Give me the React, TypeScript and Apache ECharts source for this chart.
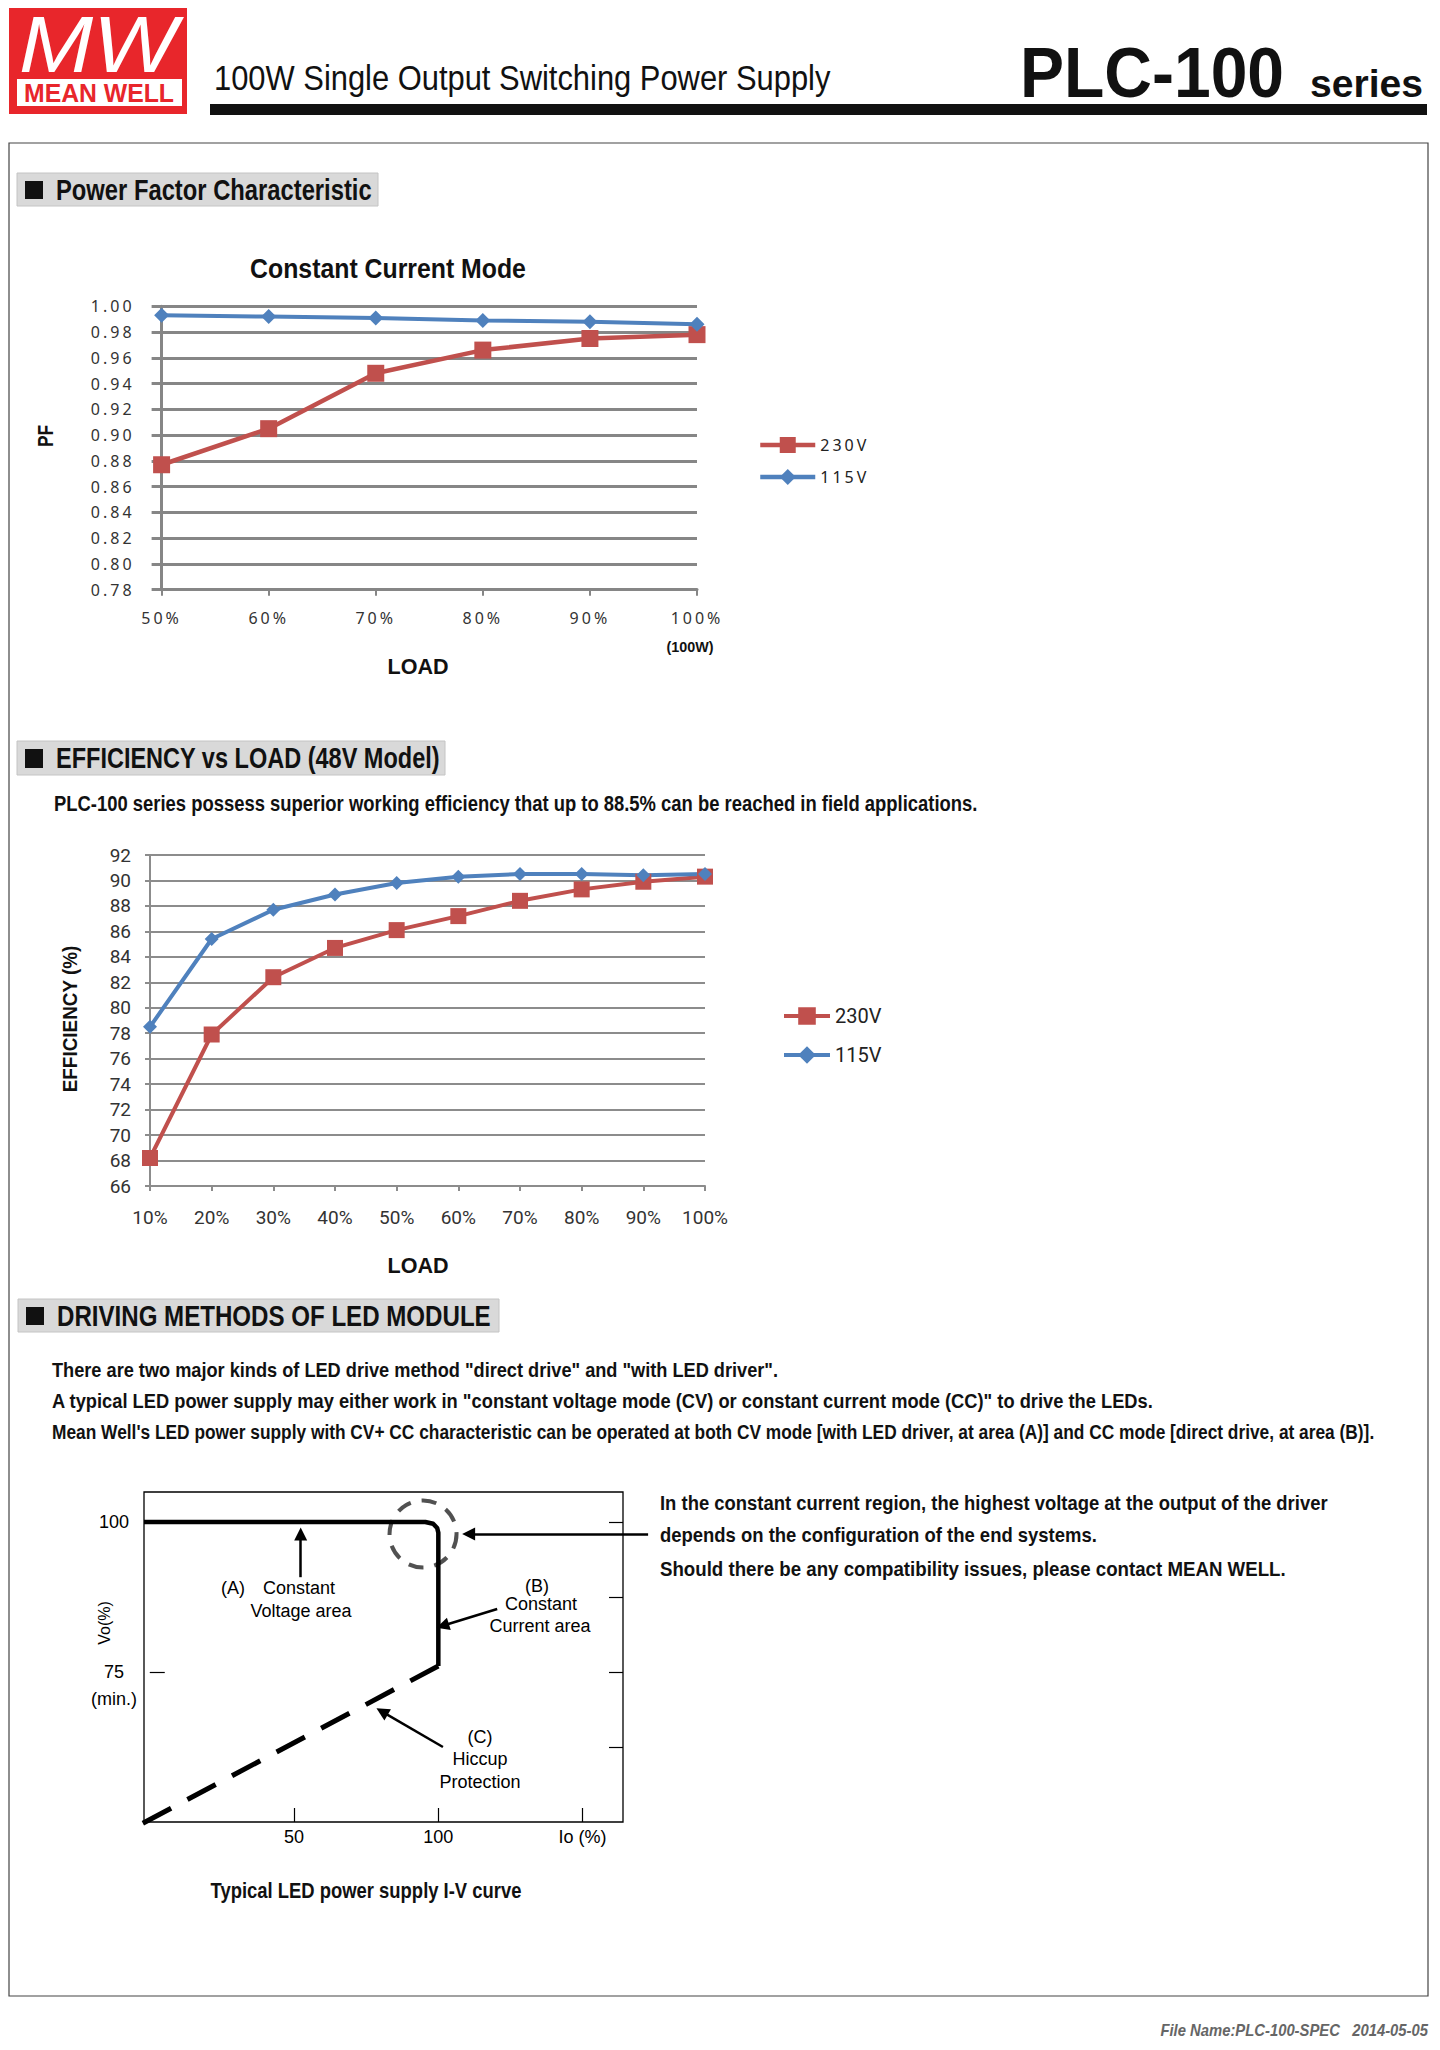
import React, { useEffect, useRef } from 'react';
import * as echarts from 'echarts';

// ---------- data ----------
const PF_LOADS = ['50%', '60%', '70%', '80%', '90%', '100%'];
const PF_230 = [0.877, 0.905, 0.948, 0.966, 0.975, 0.978];
const PF_115 = [0.993, 0.992, 0.991, 0.989, 0.988, 0.986];

const EFF_LOADS = ['10%', '20%', '30%', '40%', '50%', '60%', '70%', '80%', '90%', '100%'];
const EFF_230 = [68.2, 77.9, 82.4, 84.7, 86.1, 87.2, 88.4, 89.3, 89.9, 90.3];
const EFF_115 = [78.5, 85.4, 87.7, 88.9, 89.8, 90.3, 90.5, 90.5, 90.4, 90.5];

// I-V curve (Io %, Vo %)
const IV_CV_CC = [[-2, 100], [95.5, 100], [98.2, 99.7], [99.6, 99.0], [100, 98.2], [100, 76]];
const IV_HICCUP = [[-2.4, 49.8], [100, 76]];
const IV_X_TICKS = [50, 100, 150];
const IV_X_LABELS = ['50', '100', 'Io (%)'];
const IV_Y_LEFT_TICKS = [75, 100];
const IV_Y_RIGHT_TICKS = [62.5, 75, 87.5, 100];
const IV_ARROWS = [
  [[52.3, 90.8], [52.3, 98.0]],
  [[172.7, 98], [110.5, 98]],
  [[120.4, 85.5], [101.5, 82.7]],
  [[101.6, 62.5], [80.5, 68.4]],
];
const IV_FOCUS = [94.7, 98];

// ---------- styles ----------
const RED = '#c0504d';
const BLUE = '#4f81bd';
const GRID1 = '#868686';
const GRID2 = '#8c8c8c';
const SANS = "'Liberation Sans', Arial, sans-serif";
const NOTO = "'Noto Sans', sans-serif";
const ROBOTO = 'Roboto, sans-serif';

let measureCtx: CanvasRenderingContext2D | null = null;
function measure(text: string, font: string) {
  if (!measureCtx) measureCtx = document.createElement('canvas').getContext('2d');
  if (!measureCtx) return 0;
  measureCtx.font = font;
  return measureCtx.measureText(text).width;
}

type T = {
  text: string; x: number; y: number; size: number; weight?: string; fstyle?: string;
  family?: string; width?: number; align?: string; color?: string; rotation?: number;
};
function txt(t: T) {
  const family = t.family ?? SANS;
  const weight = t.weight ?? 'normal';
  const fstyle = t.fstyle ?? 'normal';
  let scaleX = 1;
  if (t.width) {
    const w = measure(t.text, `${fstyle} ${weight} ${t.size}px ${family}`);
    if (w > 0) scaleX = t.width / w;
  }
  const align = t.align ?? 'left';
  return {
    type: 'text', x: t.x, y: t.y, rotation: t.rotation ?? 0, scaleX, scaleY: 1, silent: true, z: 10,
    style: {
      text: t.text, fontSize: t.size, fontFamily: family, fontWeight: weight, fontStyle: fstyle,
      fill: t.color ?? '#111', align, verticalAlign: 'middle', textAlign: align, textVerticalAlign: 'middle',
    },
  };
}
function rect(x: number, y: number, w: number, h: number, fill: string, stroke?: string, lw = 1) {
  return {
    type: 'rect', shape: { x, y, width: w, height: h }, silent: true, z: 1,
    style: { fill, stroke: stroke ?? 'none', lineWidth: stroke ? lw : 0 },
  };
}
function sectionHeader(x: number, y: number, w: number, h: number, label: string, tw: number) {
  return [
    rect(x, y, w, h, '#d9d9d9', '#c4c4c4', 1),
    rect(x + 8, y + 8, 18, h - 15, '#111'),
    txt({ text: label, x: x + 39, y: y + h / 2 + 0.5, size: 29, weight: 'bold', width: tw }),
  ];
}

function buildOption() {
  const graphics: any[] = [
    // logo
    rect(9, 8, 178, 106, '#e8262b'),
    txt({ text: 'MW', x: 98, y: 44, size: 80, fstyle: 'italic', color: '#fff', align: 'center', width: 158 }),
    rect(17, 79, 165, 27, '#ffffff'),
    txt({ text: 'MEAN WELL', x: 99, y: 93, size: 26, weight: 'bold', color: '#e8262b', align: 'center', width: 150 }),
    // header
    txt({ text: '100W Single Output Switching Power Supply', x: 214, y: 78, size: 35, width: 617 }),
    txt({ text: 'PLC-100', x: 1020, y: 72, size: 70, weight: 'bold', width: 264 }),
    txt({ text: 'series', x: 1310, y: 84, size: 39, weight: 'bold', width: 113 }),
    rect(210, 104, 1217, 11, '#111'),
    // page frame
    { type: 'rect', shape: { x: 9, y: 143, width: 1419, height: 1853 }, silent: true, z: 0, style: { fill: 'none', stroke: '#444', lineWidth: 1.2 } },
    // section 1
    ...sectionHeader(17, 173, 361, 33, 'Power Factor Characteristic', 316),
    txt({ text: 'Constant Current Mode', x: 388, y: 268, size: 28, weight: 'bold', align: 'center', width: 276 }),
    txt({ text: 'PF', x: 45, y: 436, size: 22, weight: 'bold', align: 'center', rotation: Math.PI / 2, width: 22 }),
    txt({ text: 'LOAD', x: 418, y: 666, size: 22, weight: 'bold', align: 'center', width: 61 }),
    txt({ text: '(100W)', x: 690, y: 647, size: 15, weight: 'bold', align: 'center', width: 47 }),
    // section 2
    ...sectionHeader(17, 741, 428, 34, 'EFFICIENCY vs LOAD (48V Model)', 384),
    txt({ text: 'PLC-100 series possess superior working efficiency that up to 88.5% can be reached in field applications.', x: 54, y: 803, size: 22, weight: 'bold', width: 924 }),
    txt({ text: 'EFFICIENCY (%)', x: 70, y: 1019, size: 21, weight: 'bold', align: 'center', rotation: Math.PI / 2, width: 147 }),
    txt({ text: 'LOAD', x: 418, y: 1265, size: 22, weight: 'bold', align: 'center', width: 61 }),
    // section 3
    ...sectionHeader(18, 1299, 481, 33, 'DRIVING METHODS OF LED MODULE', 434),
    txt({ text: 'There are two major kinds of LED drive method "direct drive" and "with LED driver".', x: 52, y: 1370, size: 21, weight: 'bold', width: 727 }),
    txt({ text: 'A typical LED power supply may either work in "constant voltage mode (CV) or constant current mode (CC)" to drive the LEDs.', x: 52, y: 1401, size: 21, weight: 'bold', width: 1102 }),
    txt({ text: "Mean Well's LED power supply with CV+ CC characteristic can be operated at both CV mode [with LED driver, at area (A)] and CC mode [direct drive, at area (B)].", x: 52, y: 1432, size: 21, weight: 'bold', width: 1322 }),
    txt({ text: 'In the constant current region, the highest voltage at the output of the driver', x: 660, y: 1503, size: 21, weight: 'bold', width: 668 }),
    txt({ text: 'depends on the configuration of the end systems.', x: 660, y: 1535, size: 21, weight: 'bold', width: 437 }),
    txt({ text: 'Should there be any compatibility issues, please contact MEAN WELL.', x: 660, y: 1569, size: 21, weight: 'bold', width: 626 }),
    // I-V annotations
    txt({ text: '(A)', x: 221, y: 1588, size: 18, color: '#000' }),
    txt({ text: 'Constant', x: 263, y: 1588, size: 18, color: '#000' }),
    txt({ text: 'Voltage area', x: 301, y: 1611, size: 18, color: '#000', align: 'center' }),
    txt({ text: '(B)', x: 537, y: 1586, size: 18, color: '#000', align: 'center' }),
    txt({ text: 'Constant', x: 541, y: 1604, size: 18, color: '#000', align: 'center' }),
    txt({ text: 'Current area', x: 540, y: 1626, size: 18, color: '#000', align: 'center' }),
    txt({ text: '(C)', x: 480, y: 1737, size: 18, color: '#000', align: 'center' }),
    txt({ text: 'Hiccup', x: 480, y: 1759, size: 18, color: '#000', align: 'center' }),
    txt({ text: 'Protection', x: 480, y: 1782, size: 18, color: '#000', align: 'center' }),
    txt({ text: '(min.)', x: 114, y: 1699, size: 18, color: '#000', align: 'center' }),
    txt({ text: 'Vo(%)', x: 104, y: 1623, size: 16, color: '#000', align: 'center', rotation: Math.PI / 2 }),
    txt({ text: 'Typical LED power supply I-V curve', x: 366, y: 1890, size: 22, weight: 'bold', align: 'center', width: 311 }),
    // footer
    txt({ text: 'File Name:PLC-100-SPEC   2014-05-05', x: 1428, y: 2030, size: 16, weight: 'bold', fstyle: 'italic', color: '#666', align: 'right', width: 268 }),
  ];

  return {
    animation: false,
    backgroundColor: '#ffffff',
    grid: [
      { left: 161.6, top: 306.3, width: 535.4, height: 283.4 },
      { left: 150, top: 855, width: 555, height: 331 },
      { left: 144, top: 1492, width: 479, height: 330, show: true, borderColor: '#000', borderWidth: 1.3, backgroundColor: 'transparent' },
    ],
    legend: [
      {
        data: ['PF 230V', 'PF 115V'], left: 753, top: 432, orient: 'vertical', itemWidth: 55, itemHeight: 20, itemGap: 16,
        selectedMode: false, formatter: (n: string) => n.replace('PF ', ''),
        lineStyle: { width: 4.5 },
        textStyle: { fontFamily: NOTO, fontSize: 16, color: '#222' },
      },
      {
        data: ['EFF 230V', 'EFF 115V'], left: 777, top: 1001, orient: 'vertical', itemWidth: 46, itemHeight: 22, itemGap: 19,
        selectedMode: false, formatter: (n: string) => n.replace('EFF ', ''),
        lineStyle: { width: 4 },
        textStyle: { fontFamily: ROBOTO, fontSize: 20, color: '#222' },
      },
    ],
    xAxis: [
      {
        gridIndex: 0, type: 'category', data: PF_LOADS, boundaryGap: false,
        axisLine: { show: true, lineStyle: { color: GRID1, width: 3 } },
        axisTick: { show: true, length: 6, lineStyle: { color: GRID1, width: 2 } },
        axisLabel: { margin: 20, fontFamily: NOTO, fontSize: 16, color: '#333' },
        splitLine: { show: false },
      },
      {
        gridIndex: 1, type: 'category', data: EFF_LOADS, boundaryGap: false,
        axisLine: { show: true, lineStyle: { color: GRID2, width: 2 } },
        axisTick: { show: true, length: 5, lineStyle: { color: GRID2, width: 2 } },
        axisLabel: { margin: 22, fontFamily: ROBOTO, fontSize: 19, color: '#333' },
        splitLine: { show: false },
      },
      {
        gridIndex: 2, type: 'value', min: -2, max: 164,
        axisLine: { show: false },
        axisTick: { show: true, inside: true, length: 14, customValues: IV_X_TICKS, lineStyle: { color: '#000', width: 1.2 } },
        axisLabel: {
          customValues: IV_X_TICKS, margin: 6, fontFamily: SANS, fontSize: 18, color: '#000',
          formatter: (v: number) => IV_X_LABELS[IV_X_TICKS.indexOf(v)] ?? '',
        },
        splitLine: { show: false },
      },
    ],
    yAxis: [
      {
        gridIndex: 0, type: 'value', min: 0.78, max: 1.0, interval: 0.02,
        axisLine: { show: true, lineStyle: { color: GRID1, width: 3 } },
        axisTick: { show: true, length: 10, lineStyle: { color: GRID1, width: 3 } },
        axisLabel: { margin: 27, fontFamily: NOTO, fontSize: 16, color: '#333', formatter: (v: number) => v.toFixed(2) },
        splitLine: { show: true, lineStyle: { color: GRID1, width: 3 } },
      },
      {
        gridIndex: 1, type: 'value', min: 66, max: 92, interval: 2,
        axisLine: { show: true, lineStyle: { color: GRID2, width: 2 } },
        axisTick: { show: true, length: 5, lineStyle: { color: GRID2, width: 2 } },
        axisLabel: { margin: 19, fontFamily: ROBOTO, fontSize: 19, color: '#333' },
        splitLine: { show: true, lineStyle: { color: GRID2, width: 2 } },
      },
      {
        gridIndex: 2, type: 'value', min: 50, max: 105, position: 'left',
        axisLine: { show: false },
        axisTick: { show: true, inside: true, length: 15, customValues: IV_Y_LEFT_TICKS, lineStyle: { color: '#000', width: 1.2 } },
        axisLabel: { customValues: IV_Y_LEFT_TICKS, align: 'center', margin: 30, fontFamily: SANS, fontSize: 18, color: '#000' },
        splitLine: { show: false },
      },
      {
        gridIndex: 2, type: 'value', min: 50, max: 105, position: 'right',
        axisLine: { show: false },
        axisTick: { show: true, inside: true, length: 14, customValues: IV_Y_RIGHT_TICKS, lineStyle: { color: '#000', width: 1.2 } },
        axisLabel: { show: false },
        splitLine: { show: false },
      },
    ],
    series: [
      {
        name: 'PF 230V', type: 'line', xAxisIndex: 0, yAxisIndex: 0, data: PF_230,
        symbol: 'rect', symbolSize: 17, itemStyle: { color: RED }, lineStyle: { color: RED, width: 4.5 },
      },
      {
        name: 'PF 115V', type: 'line', xAxisIndex: 0, yAxisIndex: 0, data: PF_115,
        symbol: 'diamond', symbolSize: 15, itemStyle: { color: BLUE }, lineStyle: { color: BLUE, width: 4 },
      },
      {
        name: 'EFF 230V', type: 'line', xAxisIndex: 1, yAxisIndex: 1, data: EFF_230,
        symbol: 'rect', symbolSize: 16, itemStyle: { color: RED }, lineStyle: { color: RED, width: 4 },
      },
      {
        name: 'EFF 115V', type: 'line', xAxisIndex: 1, yAxisIndex: 1, data: EFF_115,
        symbol: 'diamond', symbolSize: 14, itemStyle: { color: BLUE }, lineStyle: { color: BLUE, width: 4 },
      },
      {
        name: 'I-V', type: 'line', xAxisIndex: 2, yAxisIndex: 2, data: IV_CV_CC, symbol: 'none', silent: true,
        lineStyle: { color: '#000', width: 4.5, join: 'round' },
      },
      {
        name: 'Hiccup', type: 'line', xAxisIndex: 2, yAxisIndex: 2, data: IV_HICCUP, symbol: 'none', silent: true, clip: false,
        lineStyle: { color: '#000', width: 5, type: [32, 18.5], cap: 'butt' },
      },
      {
        name: 'Focus', type: 'scatter', xAxisIndex: 2, yAxisIndex: 2, data: [IV_FOCUS], silent: true,
        symbol: 'circle', symbolSize: 67,
        itemStyle: { color: 'rgba(0,0,0,0)', borderColor: '#262626', borderWidth: 4, borderType: [15, 11] },
      },
      {
        name: 'Arrows', type: 'lines', coordinateSystem: 'cartesian2d', xAxisIndex: 2, yAxisIndex: 2, silent: true,
        clip: false, symbol: ['none', 'triangle'], symbolSize: 13,
        lineStyle: { color: '#000', width: 2.5, opacity: 1, curveness: 0 },
        data: IV_ARROWS.map((c) => ({ coords: c })),
      },
    ],
    graphic: graphics,
  };
}

export default function App() {
  const ref = useRef<HTMLDivElement>(null);
  useEffect(() => {
    document.body.style.margin = '0';
    const el = ref.current;
    if (!el) return;
    const chart = echarts.init(el, undefined, { renderer: 'svg', width: 1440, height: 2050 });
    chart.setOption(buildOption() as any);
    const spacing = () => {
      el.querySelectorAll('text').forEach((t) => {
        const html = (t as Element).outerHTML;
        if (html.indexOf('Noto Sans') >= 0) (t as SVGTextElement).style.letterSpacing = '3px';
      });
    };
    chart.on('finished', spacing);
    spacing();
    const tm = window.setTimeout(spacing, 50);
    return () => {
      window.clearTimeout(tm);
      chart.dispose();
    };
  }, []);
  return <div ref={ref} style={{ width: 1440, height: 2050, background: '#fff' }} />;
}
